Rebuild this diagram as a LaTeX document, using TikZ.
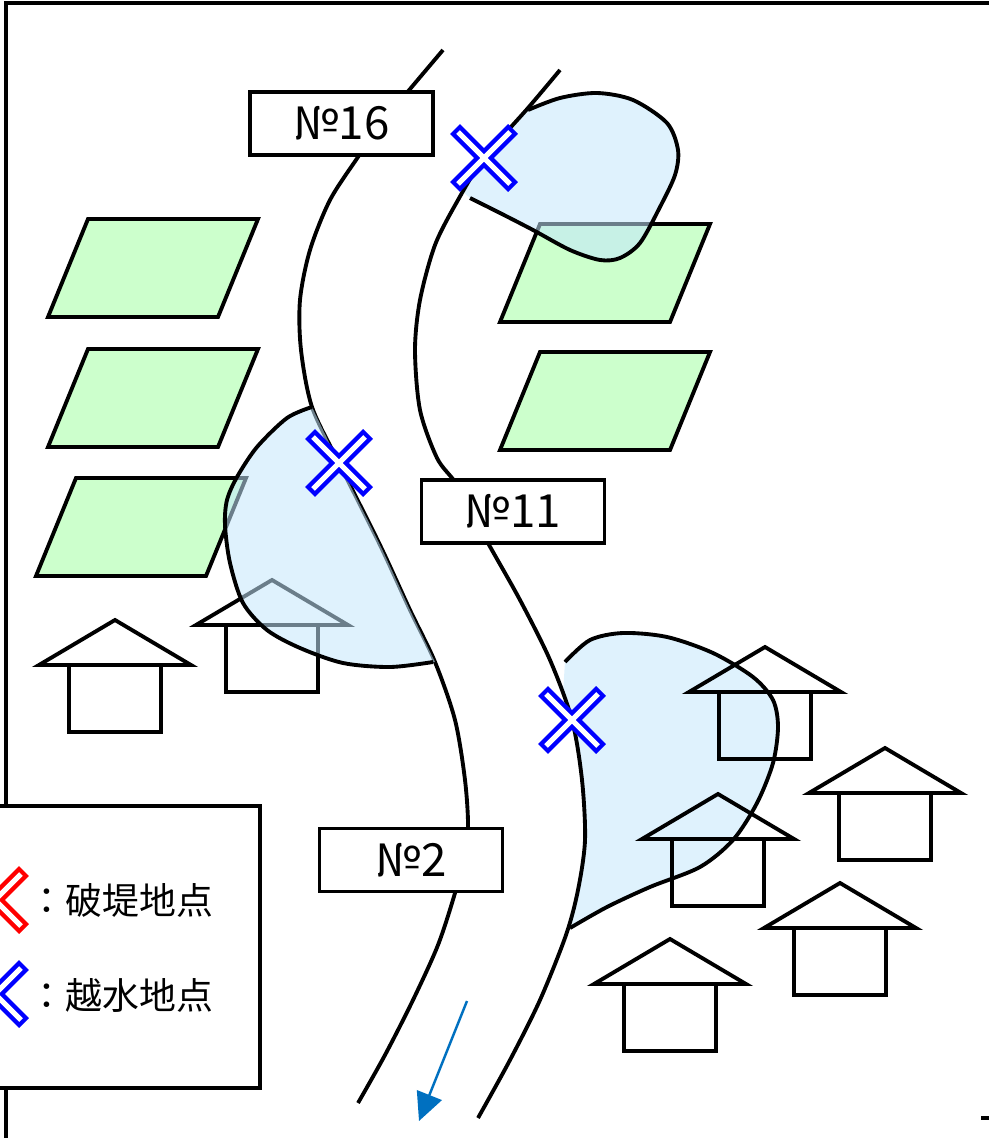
\documentclass[tikz,border=0pt]{standalone}
\usepackage{fontspec}
\newfontfamily\jpfont{Noto Sans CJK JP}
\usetikzlibrary{arrows.meta}
\definecolor{field}{HTML}{CCFFCC}
\definecolor{flood}{RGB}{196,231,252}
\definecolor{flow}{HTML}{0070C0}

\begin{document}
\begin{tikzpicture}[x=0.02cm, y=-0.02cm, line width=2.2pt,
    tag/.style={draw, fill=white, minimum width=3.66cm, minimum height=1.26cm, inner sep=0pt,
      font=\jpfont\fontsize{26}{26}\selectfont},
    key/.style={anchor=west, inner sep=0pt, font=\jpfont\fontsize{21}{21}\selectfont},
    water/.style={fill=flood, fill opacity=0.55}]
\useasboundingbox (0,0) rectangle (988,1138);
\draw[line width=2pt] (6,1150) -- (6,3) -- (1000,3);
\draw[line width=2pt] (981,1118) -- (992,1118);

% paddy fields
\foreach \x/\y in {88/219, 88/349, 76/478, 540/224, 540/352}
  \draw[fill=field] (\x,\y) -- ++(170,0) -- ++(-40,98) -- ++(-170,0) -- cycle;

% houses on the left bank
\foreach \x/\y in {115/620, 272/580}
  \draw (\x,\y) -- ++(76,45) -- ++(-152,0) -- cycle (\x-46,\y+45) rectangle ++(92,67);

% flooded area at No.11
\fill[water] plot[smooth] coordinates {(565,662) (590,640) (623,633) (667,637) (713,653) (753,677) (773,700)
    (778,727) (773,763) (757,803) (733,840) (700,867) (650,887) (607,907) (570,928)}
  -- plot[smooth] coordinates {(570,928) (578,890) (585,840) (582,780) (572,720) (563,693)} -- cycle;
\draw plot[smooth] coordinates {(565,662) (590,640) (623,633) (667,637) (713,653) (753,677) (773,700)
    (778,727) (773,763) (757,803) (733,840) (700,867) (650,887) (607,907) (570,928)};

% flooded area at No.16
\fill[water] plot[smooth] coordinates {(528,110) (560,98) (597,93) (633,100) (667,123) (678,150) (675,175)
    (660,207) (640,243) (620,258) (600,260) (570,250) (533,230) (500,213) (470,198)}
  -- plot[smooth] coordinates {(463,192) (484,158) (506,133) (528,110)} -- cycle;
\draw plot[smooth] coordinates {(528,110) (560,98) (597,93) (633,100) (667,123) (678,150) (675,175)
    (660,207) (640,243) (620,258) (600,260) (570,250) (533,230) (500,213) (470,198)};

% river banks
\draw plot[smooth] coordinates {(443,50) (405,95) (380,125) (358,157) (330,200) (310,250) (300,300)
    (301,350) (312,407) (339,463) (380,545) (410,610) (435,662) (455,720) (465,780) (468,828) (463,860)
    (455,893) (438,945) (413,1000) (385,1055) (358,1103)};
\draw plot[smooth] coordinates {(560,70) (528,108) (484,158) (458,200) (435,245) (420,300) (415,350)
    (420,410) (437,458) (455,482) (472,512) (488,543) (520,600) (550,660) (572,720) (582,780) (585,840)
    (578,890) (566,935) (540,1000) (510,1060) (478,1118)};

% flooded area near No.16 on the left bank
\fill[water] plot[smooth] coordinates {(312,407) (287,418) (257,447) (237,477) (227,500) (225,525)
    (230,563) (243,603) (267,630) (300,648) (343,663) (390,667) (435,662)}
  -- plot[smooth] coordinates {(435,662) (410,610) (380,545) (339,463) (312,407)} -- cycle;
\draw plot[smooth] coordinates {(312,407) (287,418) (257,447) (237,477) (227,500) (225,525)
    (230,563) (243,603) (267,630) (300,648) (343,663) (390,667) (433,662)};

% houses on the right bank
\foreach \x/\y in {765/647, 885/748, 718/794, 840/883, 670/939}
  \draw (\x,\y) -- ++(76,45) -- ++(-152,0) -- cycle (\x-46,\y+45) rectangle ++(92,67);

\node[tag] (no16) at (341.5,123.5) {№16};
\node[tag] (no11) at (513,511.5) {№11};
\node[tag] (no2) at (411,860) {№2};

% legend
\draw[fill=white] (-20,806) rectangle (260,1088);
\node[key] (breach) at (27,900) {：破堤地点};
\node[key] (overflow) at (27,995) {：越水地点};

% breach / overflow marks
\foreach \cx/\cy/\col in {484/158/blue, 339/463/blue, 572/720/blue, -5/900/red, -5/994/blue} {
  \draw[\col, line width=0.28cm] (\cx-29,\cy-29) -- (\cx+29,\cy+29) (\cx-29,\cy+29) -- (\cx+29,\cy-29);
  \draw[white, line width=0.1cm] (\cx-26,\cy-26) -- (\cx+26,\cy+26) (\cx-26,\cy+26) -- (\cx+26,\cy-26);
}

% flow direction
\coordinate (flowtop) at (467,1001);
\coordinate (flowend) at (419,1121);
\draw[flow, line width=1.4pt, -{Triangle[length=0.56cm, width=0.53cm]}] (flowtop) -- (flowend);
\end{tikzpicture}
\end{document}
